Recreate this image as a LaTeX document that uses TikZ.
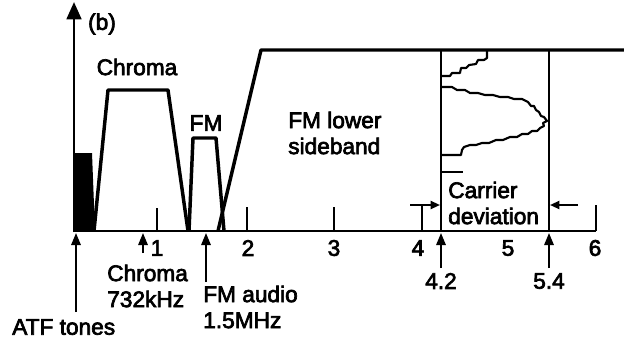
\documentclass[tikz,border=0pt]{standalone}
\usepackage{fontspec}
\setmainfont{Liberation Sans}
\newfontfamily\lblfont{Liberation Sans}[FakeBold=3]
\usetikzlibrary{arrows.meta}
\tikzset{
  lbl/.style={font=\lblfont\fontsize{17}{19.5}\selectfont, inner sep=0pt},
  spec/.style={line width=2.6pt, line join=round},
  axis/.style={line width=2.1pt},
  thinln/.style={line width=1.7pt},
  uparr/.style={line width=1.5pt, -{Triangle[length=9pt,width=7pt]}},
  devarr/.style={line width=1.5pt, -{Triangle[length=7pt,width=6pt]}},
}
\begin{document}
\begin{tikzpicture}[x=0.75pt,y=-0.75pt]
\useasboundingbox (0,0) rectangle (624,340);
% ATF tone block
\fill (74,231) -- (74,153) -- (92,153) -- (95,231) -- cycle;
% axes
\coordinate (ybot) at (74,232);
\coordinate (ytop) at (74,2);
\draw[axis, -{Triangle[length=13pt,width=11pt]}] (ybot) -- (ytop);
\draw[axis] (74,231) -- (596,231);
% ticks
\foreach \x/\t in {157/208, 247/207, 334/207, 422/205, 596/205}
  \draw[axis] (\x,231) -- (\x,\t);
% chroma trapezoid
\draw[spec] (94,231) -- (108,90) -- (168,90) -- (188,231);
% FM audio trapezoid
\draw[spec] (189,231) -- (193,138) -- (216,138) -- (224,231);
% FM lower sideband
\draw[spec] (218,231) -- (261,50) -- (624,50);
% carrier lines
\draw[thinln] (441,50) -- (441,231);
\draw[thinln] (549,50) -- (549,231);
% spectrum curve
\draw[line width=1.6pt, line join=round]
 (487,50) -- (487,58) -- (484,60) -- (478,60) -- (476,64) -- (469,65) -- (466,68) -- (461,68)
 -- (460,73) -- (452,73) -- (450,76) -- (441,76);
\draw[line width=1.6pt, line join=round]
 (441,87) -- (452,87) -- (457,90) -- (465,90) -- (470,93) -- (478,93) -- (485,95) -- (493,95)
 -- (500,97) -- (508,97) -- (514,99) -- (522,99) -- (528,102) -- (531,106) -- (534,106)
 -- (536,110) -- (539,112) -- (541,116) -- (544,117) -- (547,121) -- (543,123) -- (544,126)
 -- (540,128) -- (537,131) -- (532,131) -- (528,134) -- (522,134) -- (517,137) -- (510,137)
 -- (503,140) -- (496,140) -- (489,143) -- (482,143) -- (476,145) -- (470,145) -- (464,147)
 -- (462,150) -- (461,155) -- (441,155);
\draw[line width=1.6pt] (441,172) -- (463,172);
% deviation arrows
\coordinate (dl) at (410,205);
\coordinate (dlt) at (440,205);
\coordinate (dr) at (578,205);
\coordinate (drt) at (550,205);
\draw[devarr] (dl) -- (dlt);
\draw[devarr] (dr) -- (drt);
% labels
\node[lbl] (b) at (102,24) {(b)};
\node[lbl] (chr) at (137,67) {Chroma};
\node[lbl] (fm) at (206,123) {FM};
\node[lbl, align=left, anchor=west] (fml) at (288,133) {FM lower\\sideband};
\node[lbl, align=left, anchor=west] (cd) at (448,203) {Carrier\\deviation};
\foreach \x/\t in {157/1, 248/2, 334/3, 418/4, 508/5, 595/6}
  \node[lbl] (t\t) at (\x,248) {\t};
\node[lbl] (l42) at (441,281) {4.2};
\node[lbl] (l54) at (549,281) {5.4};
\node[lbl, align=left, anchor=west] (c732) at (107,286) {Chroma\\732kHz};
\node[lbl, align=left, anchor=west] (fma) at (203,307) {FM audio\\1.5MHz};
\node[lbl, anchor=west] (atf) at (12,327) {ATF tones};
% up arrows
\coordinate (a0) at (76,312);  \coordinate (a0t) at (76,233);
\coordinate (a1) at (143,253); \coordinate (a1t) at (143,233);
\coordinate (a2) at (206,282); \coordinate (a2t) at (206,233);
\coordinate (a3) at (441,268); \coordinate (a3t) at (441,233);
\coordinate (a4) at (549,268); \coordinate (a4t) at (549,233);
\foreach \s/\e in {a0/a0t,a1/a1t,a2/a2t,a3/a3t,a4/a4t} \draw[uparr] (\s) -- (\e);
\end{tikzpicture}
\end{document}
